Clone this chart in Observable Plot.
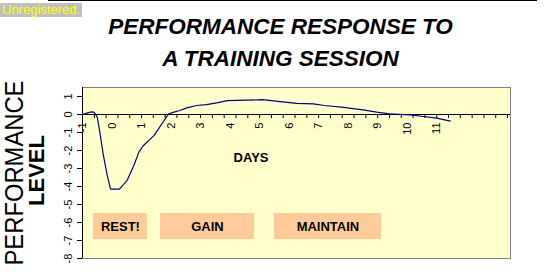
<!DOCTYPE html>
<html>
<head>
<meta charset="utf-8">
<script src="https://cdn.jsdelivr.net/npm/d3@7"></script>
<script src="https://cdn.jsdelivr.net/npm/@observablehq/plot@0.6"></script>
<style>
  html, body { margin: 0; padding: 0; background: #ffffff; }
  #wrap { position: relative; width: 544px; height: 275px; overflow: hidden; }
  #topline { position: absolute; left: 48px; top: 0; width: 489px; height: 1px; background: #000; }
  #unreg { position: absolute; left: 0; top: 3px; width: 82px; height: 14px; background: #c0c0c0;
           color: #ffff00; font: 13px "Liberation Sans", Arial, sans-serif; line-height: 14px; padding-left: 2px; box-sizing: border-box; white-space: nowrap; }
  svg { display: block; }
</style>
</head>
<body>
<div id="wrap"></div>
<script>
// ---- data ----
const days   = [-1, -0.85, -0.7, -0.62, -0.55, -0.5, -0.42, -0.3, -0.16, -0.05, 0.25, 0.51, 0.74, 0.91, 1.05, 1.25, 1.42, 1.92, 2.1, 2.3, 2.53, 2.87, 3.2, 3.55, 3.9, 4.9, 5.1, 5.7, 6.26, 6.82, 7.2, 7.85, 8.5, 8.97, 9.4, 10.1, 10.55, 11.0, 11.46];
const levels = [0, 0.08, 0.15, 0.13, 0.0, -0.15, -0.9, -2.2, -3.4, -4.15, -4.15, -3.67, -2.83, -2.09, -1.75, -1.44, -1.17, 0.04, 0.13, 0.22, 0.37, 0.5, 0.55, 0.65, 0.77, 0.81, 0.83, 0.72, 0.62, 0.59, 0.5, 0.4, 0.26, 0.13, 0.04, -0.02, -0.11, -0.2, -0.37];

const dayTickLabels   = [-1, 0, 1, 2, 3, 4, 5, 6, 7, 8, 9, 10, 11];
const levelTickLabels = [-8, -7, -6, -5, -4, -3, -2, -1, 0, 1];

const titleLines  = ["PERFORMANCE RESPONSE TO", "A TRAINING SESSION"];
const yTitleLines = ["PERFORMANCE", "LEVEL"];
const xTitle      = "DAYS";

const phaseLabels = ["REST!", "GAIN", "MAINTAIN"];
const phaseStart  = [-0.63, 1.64, 5.5];
const phaseEnd    = [1.2, 4.83, 9.13];
const phaseTop    = -5.5;
const phaseBottom = -6.95;

const points = days.map((d, i) => ({day: d, level: levels[i]}));
const phases = phaseLabels.map((l, i) => ({label: l, x1: phaseStart[i], x2: phaseEnd[i]}));
const minorTicks = d3.range(0, 37).map(k => -1 + 0.4 * k);

const font = "'Liberation Sans', Arial, sans-serif";

const chart = Plot.plot({
  width: 544,
  height: 275,
  marginLeft: 82,
  marginRight: 34,
  marginTop: 87,
  marginBottom: 17,
  x: {domain: [-1, 13.5], axis: null},
  y: {domain: [-8, 1.5], axis: null},
  style: {fontFamily: font, background: "transparent", color: "#000"},
  marks: [
    Plot.frame({fill: "#ffffcc", stroke: "#808080"}),
    // phase boxes
    Plot.rect(phases, {x1: "x1", x2: "x2", y1: phaseBottom, y2: phaseTop, fill: "#ffcc99"}),
    Plot.text(phases, {x: d => (d.x1 + d.x2) / 2, y: (phaseTop + phaseBottom) / 2, text: "label",
      fontSize: 13, fontWeight: "bold", fill: "#000"}),
    // x axis at zero
    Plot.ruleY([0], {stroke: "#000"}),
    Plot.ruleX(minorTicks, {x: d => d, y1: 0, y2: 0, insetBottom: -4, stroke: "#000"}),
    Plot.text(dayTickLabels, {x: d => d, y: 0, text: d => String(d), rotate: -90,
      textAnchor: "end", lineAnchor: "middle", dy: 8, fontSize: 11, fill: "#000"}),
    // y axis
    Plot.ruleX([-1], {stroke: "#000"}),
    Plot.ruleY(levelTickLabels, {y: d => d, x1: -1, x2: -1, insetLeft: -5, stroke: "#000"}),
    Plot.text(levelTickLabels, {frameAnchor: "left", y: d => d, text: d => String(d), rotate: -90,
      textAnchor: "middle", lineAnchor: "bottom", dx: -11, fontSize: 11, fill: "#000"}),
    // curve
    Plot.line(points, {x: "day", y: "level", stroke: "#000080", strokeWidth: 1.2}),
    // DAYS label
    Plot.text([xTitle], {x: 4.71, y: -2.41, text: d => d, fontSize: 13, fontWeight: "bold", fill: "#000"}),
    // titles
    Plot.text([titleLines[0]], {frameAnchor: "top", text: d => d, dx: -16, dy: -54, lineAnchor: "bottom",
      fontSize: 22.5, fontWeight: "bold", fontStyle: "italic", fill: "#000"}),
    Plot.text([titleLines[1]], {frameAnchor: "top", text: d => d, dx: -16, dy: -22, lineAnchor: "bottom",
      fontSize: 22.5, fontWeight: "bold", fontStyle: "italic", fill: "#000"}),
    // y title
    Plot.text([yTitleLines[0]], {frameAnchor: "left", text: d => d, rotate: -90, textAnchor: "middle",
      lineAnchor: "bottom", dx: -59.7, dy: 0, fontSize: 26, fill: "#000"}),
    Plot.text([yTitleLines[1]], {frameAnchor: "left", text: d => d, rotate: -90, textAnchor: "middle",
      lineAnchor: "bottom", dx: -39, dy: -2.5, fontSize: 22, fontWeight: "bold", fill: "#000"})
  ]
});

const wrap = document.getElementById("wrap");
wrap.appendChild(chart);
// squeeze the big axis title to the reference's length
d3.select(chart).selectAll("text").filter(function() { return this.textContent === yTitleLines[0]; })
  .attr("textLength", 185).attr("lengthAdjust", "spacingAndGlyphs");

const line = document.createElement("div"); line.id = "topline"; wrap.appendChild(line);
const unreg = document.createElement("div"); unreg.id = "unreg"; unreg.textContent = "Unregistered."; wrap.appendChild(unreg);
</script>
</body>
</html>
